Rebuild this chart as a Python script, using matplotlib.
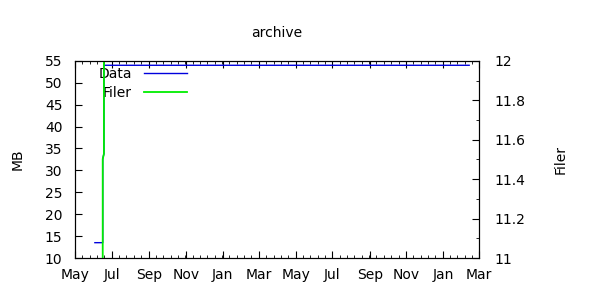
import matplotlib
matplotlib.use('Agg')
import matplotlib.pyplot as plt
import matplotlib.dates as mdates
from matplotlib.ticker import AutoMinorLocator, MultipleLocator, FormatStrFormatter
import pandas as pd

# archive size (MB) over time
data_dates = pd.to_datetime(['2011-06-03', '2011-06-16', '2011-06-16', '2011-06-18',
                             '2011-06-18', '2013-02-13'])
data_mb = [13.5, 13.5, 32.6, 33.8, 54.0, 54.0]

# filer series (right axis)
filer_dates = pd.to_datetime(['2011-06-16', '2011-06-16', '2011-06-18', '2011-06-18'])
filer_vals = [10.9, 11.502, 11.529, 12.1]

x_start = pd.Timestamp('2011-05-01')
x_end = pd.Timestamp('2013-03-01')

plt.rcParams['font.family'] = ['DejaVu Sans']
plt.rcParams['font.size'] = 10

fig = plt.figure(figsize=(6, 3), dpi=100)
ax = fig.add_axes([0.125, 0.14, 0.673, 0.657])
ax2 = ax.twinx()

l1, = ax.plot(data_dates, data_mb, color='#0000dd', lw=1, label='Data', snap=False)
l2, = ax2.plot(filer_dates, filer_vals, color='#00ee00', lw=1.3, label='Filer', snap=False)

ax.set_xlim(x_start, x_end)
ax.set_ylim(10, 55)
ax2.set_ylim(11, 12)

ax.xaxis.set_major_locator(mdates.MonthLocator(bymonth=[1, 3, 5, 7, 9, 11]))
ax.xaxis.set_major_formatter(mdates.DateFormatter('%b'))
ax.xaxis.set_minor_locator(AutoMinorLocator(5))
ax.yaxis.set_major_locator(MultipleLocator(5))
ax2.yaxis.set_major_locator(MultipleLocator(0.2))
ax2.yaxis.set_minor_locator(MultipleLocator(0.1))
ax2.yaxis.set_major_formatter(FormatStrFormatter('%g'))

ax.tick_params(axis='x', which='both', direction='in', top=True, pad=7)
ax.tick_params(axis='x', which='major', length=5)
ax.tick_params(axis='x', which='minor', length=2.5)
ax.tick_params(axis='y', which='major', direction='in', length=5, pad=9)
ax2.tick_params(axis='y', which='major', direction='in', length=5, pad=11)
ax2.tick_params(axis='y', which='minor', direction='in', length=2.5)

ax.set_title('archive', pad=17, fontsize=10)
ax.set_ylabel('MB')
ax.yaxis.set_label_coords(-0.124, 0.5)
ax2.set_ylabel('Filer')
ax2.yaxis.set_label_coords(1.186, 0.5)

ax.legend(handles=[l1, l2], loc='upper left', bbox_to_anchor=(0.03, 1.025),
          frameon=False, markerfirst=False, handlelength=3.1,
          handletextpad=0.85, labelspacing=0.35, borderpad=0.3)

fig.savefig('out.png', dpi=100)
